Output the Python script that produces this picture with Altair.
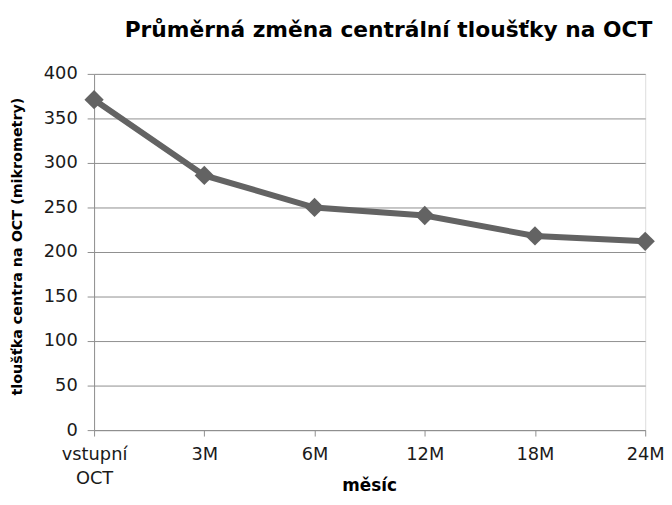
import altair as alt
import pandas as pd

categories = ["vstupní OCT", "3M", "6M", "12M", "18M", "24M"]
values = [371, 286, 250, 241, 218, 212]
y_ticks = [0, 50, 100, 150, 200, 250, 300, 350, 400]

df = pd.DataFrame({"mesic": categories, "val": values})

FONT = "DejaVu Sans"
GRID = "#8f8f8f"
TXT = "#1a1a1a"

x_enc = alt.X(
    "mesic:N",
    sort=categories,
    scale=alt.Scale(padding=0),
    axis=alt.Axis(
        title="měsíc",
        titleFont=FONT,
        titleFontSize=17,
        titleFontWeight="bold",
        titleColor="#000000",
        titleX=278,
        titleY=56,
        titleAlign="center",
        titleBaseline="middle",
        labelFont=FONT,
        labelFontSize=18,
        labelColor=TXT,
        labelAngle=0,
        labelPadding=10,
        labelExpr="datum.value == 'vstupní OCT' ? ['vstupní', 'OCT'] : datum.value",
        labelLineHeight=24,
        domainColor=GRID,
        tickColor=GRID,
        tickSize=6,
        grid=False,
    ),
)

y_enc = alt.Y(
    "val:Q",
    scale=alt.Scale(domain=[0, 400], nice=False),
    axis=alt.Axis(
        title="tloušťka centra na OCT (mikrometry)",
        titleFont=FONT,
        titleFontSize=14.5,
        titleFontWeight="bold",
        titleColor="#000000",
        titleX=-77,
        titleY=174,
        titleAlign="center",
        titleBaseline="middle",
        titleAngle=270,
        values=y_ticks,
        labelFont=FONT,
        labelFontSize=18,
        labelColor=TXT,
        labelPadding=10,
        domainColor=GRID,
        tickColor=GRID,
        tickSize=7,
        gridColor=GRID,
        gridWidth=1,
    ),
)

base = alt.Chart(df).encode(x=x_enc, y=y_enc)

line = base.mark_line(color="#636363", strokeWidth=6)
points = base.mark_point(
    shape="diamond", filled=True, color="#636363", size=380, opacity=1
)

chart = (
    alt.layer(line, points)
    .properties(
        width=557,
        height=360,
        title=alt.TitleParams(
            "Průměrná změna centrální tloušťky na OCT",
            font=FONT,
            fontSize=22,
            fontWeight="bold",
            color="#000000",
            anchor="middle",
            dx=19,
            offset=23,
        ),
        autosize=alt.AutoSizeParams(type="none"),
        padding={"left": 87, "top": 64, "right": 19, "bottom": 65},
    )
    .configure_view(stroke=None)
    .configure(background="white")
)

chart.save("out.html", embed_options={"renderer": "svg", "actions": False})
